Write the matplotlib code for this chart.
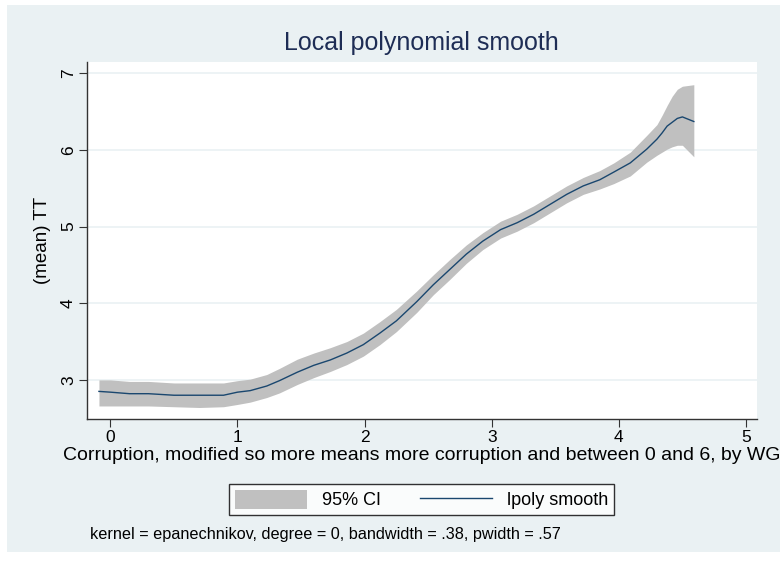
import numpy as np
import matplotlib.pyplot as plt
from matplotlib.patches import Patch, Rectangle
from matplotlib.lines import Line2D

plt.rcParams['font.family'] = ['Liberation Sans', 'DejaVu Sans']

# lpoly smooth and its 95% CI
corruption = [-0.09, 0.00, 0.15, 0.30, 0.50, 0.70, 0.89, 1.00, 1.10, 1.23, 1.33, 1.47,
              1.60, 1.73, 1.86, 1.99, 2.12, 2.25, 2.41, 2.54, 2.67, 2.80, 2.93, 3.07,
              3.20, 3.33, 3.46, 3.59, 3.72, 3.85, 3.96, 4.09, 4.22, 4.30, 4.34, 4.38,
              4.42, 4.46, 4.50, 4.59]
smooth = [2.85, 2.84, 2.82, 2.82, 2.80, 2.80, 2.80, 2.84, 2.86, 2.92, 2.99, 3.10,
          3.19, 3.26, 3.35, 3.46, 3.61, 3.77, 4.02, 4.24, 4.44, 4.64, 4.81, 4.96,
          5.05, 5.16, 5.29, 5.42, 5.53, 5.61, 5.71, 5.83, 6.01, 6.14, 6.22, 6.31,
          6.36, 6.41, 6.43, 6.37]
ci_low = [2.66, 2.66, 2.66, 2.66, 2.65, 2.64, 2.65, 2.68, 2.71, 2.77, 2.83, 2.94,
          3.03, 3.11, 3.20, 3.31, 3.46, 3.63, 3.88, 4.11, 4.31, 4.52, 4.70, 4.85,
          4.94, 5.05, 5.18, 5.31, 5.42, 5.49, 5.56, 5.66, 5.84, 5.93, 5.97, 6.01,
          6.04, 6.06, 6.06, 5.91]
ci_high = [3.00, 3.00, 2.98, 2.98, 2.96, 2.96, 2.96, 2.99, 3.01, 3.07, 3.15, 3.27,
           3.35, 3.42, 3.50, 3.61, 3.76, 3.92, 4.16, 4.37, 4.57, 4.76, 4.92, 5.07,
           5.16, 5.27, 5.40, 5.53, 5.64, 5.73, 5.83, 5.97, 6.19, 6.33, 6.45, 6.58,
           6.70, 6.79, 6.83, 6.85]

x_ticks = [0, 1, 2, 3, 4, 5]
y_ticks = [3, 4, 5, 6, 7]

navy = '#1a476f'
bg = '#eaf1f3'

fig = plt.figure(figsize=(7.8, 5.63), dpi=100, facecolor='white')
fig.patches.append(Rectangle((7 / 780, 11 / 563), 1 - 7 / 780, 1 - 16 / 563,
                             transform=fig.transFigure, facecolor=bg, edgecolor='none', zorder=-10))

ax = fig.add_axes([87 / 780, 1 - 419 / 563, (757 - 87) / 780, (419 - 61.7) / 563])
ax.set_facecolor('white')

ax.fill_between(corruption, ci_low, ci_high, color='#c0c0c0', linewidth=0, zorder=2)
ax.plot(corruption, smooth, color=navy, linewidth=1.0, zorder=3)

ax.set_xlim(-0.184, 5.087)
ax.set_ylim(2.49, 7.15)
ax.set_xticks(x_ticks)
ax.set_yticks(y_ticks)
ax.grid(axis='y', color=bg, linewidth=1.2, zorder=1)
ax.set_axisbelow(True)
for s in ['top', 'right']:
    ax.spines[s].set_visible(False)
for s in ['left', 'bottom']:
    ax.spines[s].set_color('#333333')
    ax.spines[s].set_linewidth(1.0)
ax.tick_params(direction='out', length=6, color='#333333', labelsize=12.5, pad=2)
for lab in ax.get_yticklabels():
    lab.set_rotation(90)
    lab.set_va('center')

ax.set_xlabel('Corruption, modified so more means more corruption and between 0 and 6, by WG',
              fontsize=14, labelpad=1)
ax.set_ylabel('(mean) TT', fontsize=13.5, labelpad=7)

fig.text(421 / 780, 1 - 43 / 563, 'Local polynomial smooth', ha='center', va='center',
         fontsize=18, color='#1e2d55')

handles = [Patch(facecolor='#c0c0c0', edgecolor='none'),
           Line2D([], [], color=navy, linewidth=1.0)]
leg = fig.legend(handles, ['95% CI', 'lpoly smooth'], loc='center',
                 bbox_to_anchor=(421.5 / 780, 1 - 499.5 / 563), ncol=2, fontsize=13,
                 frameon=True, fancybox=False, handlelength=4.0, handleheight=1.3,
                 columnspacing=2.2, borderpad=0.3, handletextpad=0.8)
leg.get_frame().set_edgecolor('black')
leg.get_frame().set_linewidth(1.0)
leg.get_frame().set_facecolor('white')

fig.text(90 / 780, 1 - 535 / 563,
         'kernel = epanechnikov, degree = 0, bandwidth = .38, pwidth = .57',
         ha='left', va='center', fontsize=11.7)

fig.savefig('out.png', dpi=100, facecolor=fig.get_facecolor())
